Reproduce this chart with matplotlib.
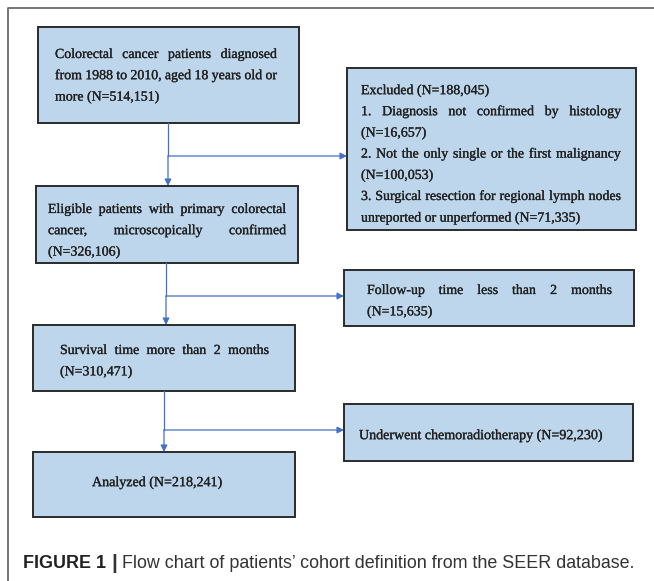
import matplotlib
matplotlib.use("Agg")
import matplotlib.pyplot as plt
import matplotlib.patheffects as pe
from matplotlib.patches import Rectangle

# texts of the flow chart, broken into lines as in the original
start_lines = ["Colorectal cancer patients diagnosed",
               "from 1988 to 2010, aged 18 years old or",
               "more (N=514,151)"]
excluded_lines = ["Excluded (N=188,045)",
                  "1. Diagnosis not confirmed by histology",
                  "(N=16,657)",
                  "2. Not the only single or the first malignancy",
                  "(N=100,053)",
                  "3. Surgical resection for regional lymph nodes",
                  "unreported or unperformed (N=71,335)"]
eligible_lines = ["Eligible patients with primary colorectal",
                  "cancer, microscopically confirmed",
                  "(N=326,106)"]
followup_lines = ["Follow-up time less than 2 months",
                  "(N=15,635)"]
survival_lines = ["Survival time more than 2 months",
                  "(N=310,471)"]
chemo_lines = ["Underwent chemoradiotherapy (N=92,230)"]
analyzed_lines = ["Analyzed (N=218,241)"]

caption_head = "FIGURE 1"
caption_text = "Flow chart of patients\u2019 cohort definition from the SEER database."

W, H = 654, 581
box_face = "#bdd6ec"
box_edge = "#2b2b2b"
arrow_col = "#4472c4"
txt_col = "#202020"
serif = "Liberation Serif"
fs = 10.0
lsp = 21.2
thick = [pe.withStroke(linewidth=0.2, foreground=txt_col)]

fig = plt.figure(figsize=(W / 100, H / 100), dpi=100)
ax = fig.add_axes([0, 0, 1, 1])
ax.set_xlim(0, W)
ax.set_ylim(H, 0)
ax.axis("off")
r = fig.canvas.get_renderer()


def width(s, **kw):
    t = ax.text(0, 0, s, **kw)
    w = t.get_window_extent(r).width
    t.remove()
    return w


def put_line(s, x0, x1, y, justify, size=fs):
    kw = dict(fontfamily=serif, fontsize=size, color=txt_col)
    words = s.split(" ")
    if not justify or len(words) < 2:
        ax.text(x0, y, s, ha="left", va="center_baseline", path_effects=thick, **kw)
        return
    ws = [width(w, **kw) for w in words]
    gap = (x1 - x0 - sum(ws)) / (len(words) - 1)
    x = x0
    for w, ww in zip(words, ws):
        ax.text(x, y, w, ha="left", va="center_baseline", path_effects=thick, **kw)
        x += ww + gap


def box(x0, y0, x1, y1, lines, tx0, tx1, ty, just, size=fs):
    ax.add_patch(Rectangle((x0, y0), x1 - x0, y1 - y0, facecolor=box_face,
                           edgecolor=box_edge, lw=1.4))
    for i, (s, j) in enumerate(zip(lines, just)):
        put_line(s, tx0, tx1, ty + i * lsp, j, size)


def arrow(x, y0, y1, xb, yb):
    style = dict(arrowstyle="-|>", color=arrow_col, lw=0.9,
                 mutation_scale=10, shrinkA=0, shrinkB=0)
    ax.plot([x, x], [y0, yb], color=arrow_col, lw=0.9)
    ax.annotate("", xy=(x, y1), xytext=(x, yb), arrowprops=style)
    ax.annotate("", xy=(xb, yb), xytext=(x, yb), arrowprops=style)


# outer frame (left and top edges visible)
ax.plot([8, 8, W + 5], [H + 5, 8, 8], color="#6a6a6a", lw=1.3)

box(38, 27, 299, 123, start_lines, 55, 277, 53, [True, True, False])
box(347, 68, 636, 230, excluded_lines, 361, 621, 89,
    [False, True, False, True, False, True, False])
box(36, 186, 298, 263, eligible_lines, 48, 286, 208, [True, True, False])
box(344, 270, 634, 326, followup_lines, 367, 612, 289, [True, False])
box(33, 325, 295, 391, survival_lines, 60, 269, 349, [True, False])
box(344, 404, 633, 461, chemo_lines, 359, 604, 434, [False], size=10.1)
box(33, 452, 295, 517, analyzed_lines, 92, 222, 481, [False], size=10.1)

arrow(168, 123, 186, 347, 156)
arrow(166, 263, 325, 344, 296)
arrow(164, 391, 452, 344, 430)

# caption
cfs = 12.9
sans = "Liberation Sans"
x = 23
cy = 568
ax.text(x, cy, caption_head, ha="left", va="baseline", fontfamily=sans,
        fontsize=cfs, fontweight="bold", color="#222222")
x += width(caption_head, fontfamily=sans, fontsize=cfs, fontweight="bold")
x += width(" ", fontfamily=sans, fontsize=cfs)
ax.text(x, cy + 1, "|", ha="left", va="baseline", fontfamily=sans,
        fontsize=cfs + 2, fontweight="bold", color="#333333")
x += width("| ", fontfamily=sans, fontsize=cfs + 2)
ax.text(x, cy, caption_text, ha="left", va="baseline", fontfamily=sans,
        fontsize=cfs, color="#333333")

fig.savefig("out.png", dpi=100, facecolor="white")
